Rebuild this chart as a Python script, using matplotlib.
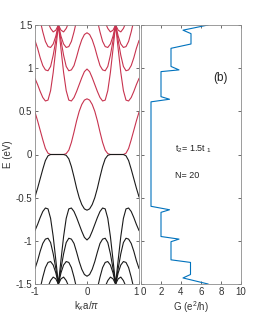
import numpy as np
import matplotlib
matplotlib.use("Agg")
import matplotlib.pyplot as plt

plt.rcParams['font.family'] = ['Liberation Sans Narrow', 'Liberation Sans', 'DejaVu Sans']
plt.rcParams['mathtext.fontset'] = 'custom'
plt.rcParams['mathtext.rm'] = 'Liberation Sans'
plt.rcParams['mathtext.it'] = 'Liberation Sans:italic'

# kx grid (kx a / pi)
kx = [-1.0, -0.95, -0.9, -0.85, -0.8, -0.75, -0.7, -0.65, -0.6, -0.55, -0.5,
      -0.45, -0.4, -0.35, -0.3, -0.25, -0.2, -0.15, -0.1, -0.05, 0.0,
      0.05, 0.1, 0.15, 0.2, 0.25, 0.3, 0.35, 0.4, 0.45, 0.5,
      0.55, 0.6, 0.65, 0.7, 0.75, 0.8, 0.85, 0.9, 0.95, 1.0]

# conduction bands (red)
c1 = [0.49, 0.39, 0.28, 0.17, 0.07, 0.015, 0.0, 0.0, 0.0, 0.0, 0.0,
      0.0, 0.01, 0.05, 0.14, 0.26, 0.39, 0.50, 0.58, 0.63, 0.645,
      0.63, 0.58, 0.50, 0.39, 0.26, 0.14, 0.05, 0.01, 0.0, 0.0,
      0.0, 0.0, 0.0, 0.0, 0.015, 0.07, 0.17, 0.28, 0.39, 0.49]
c2 = [0.88, 0.81, 0.73, 0.66, 0.62, 0.63, 0.74, 0.95, 1.22, 1.50, 1.22,
      0.95, 0.74, 0.63, 0.62, 0.66, 0.73, 0.81, 0.89, 0.96, 0.99,
      0.96, 0.89, 0.81, 0.73, 0.66, 0.62, 0.63, 0.74, 0.95, 1.22,
      1.50, 1.22, 0.95, 0.74, 0.63, 0.62, 0.66, 0.73, 0.81, 0.88]
c3 = [1.32, 1.23, 1.12, 1.03, 0.98, 0.97, 1.02, 1.15, 1.32, 1.50, 1.32,
      1.15, 1.02, 0.97, 0.98, 1.03, 1.13, 1.24, 1.33, 1.39, 1.41,
      1.39, 1.33, 1.24, 1.13, 1.03, 0.98, 0.97, 1.02, 1.15, 1.32,
      1.50, 1.32, 1.15, 1.02, 0.97, 0.98, 1.03, 1.12, 1.23, 1.32]
c4 = [1.85, 1.7, 1.55, 1.42, 1.31, 1.25, 1.24, 1.28, 1.37, 1.50, 1.37,
      1.28, 1.24, 1.25, 1.31, 1.42, 1.55, 1.7, 1.85, 1.95, 2.0,
      1.95, 1.85, 1.7, 1.55, 1.42, 1.31, 1.25, 1.24, 1.28, 1.37,
      1.50, 1.37, 1.28, 1.24, 1.25, 1.31, 1.42, 1.55, 1.7, 1.85]
c5 = [2.2, 2.0, 1.85, 1.72, 1.62, 1.53, 1.46, 1.42, 1.44, 1.50, 1.44,
      1.42, 1.46, 1.53, 1.62, 1.72, 1.85, 2.0, 2.2, 2.3, 2.35,
      2.3, 2.2, 2.0, 1.85, 1.72, 1.62, 1.53, 1.46, 1.42, 1.44,
      1.50, 1.44, 1.42, 1.46, 1.53, 1.62, 1.72, 1.85, 2.0, 2.2]

# valence bands (black)
v1 = [-0.49, -0.39, -0.28, -0.17, -0.07, -0.015, 0.0, 0.0, 0.0, 0.0, 0.0,
      0.0, -0.01, -0.05, -0.14, -0.26, -0.39, -0.50, -0.58, -0.63, -0.645,
      -0.63, -0.58, -0.50, -0.39, -0.26, -0.14, -0.05, -0.01, 0.0, 0.0,
      0.0, 0.0, 0.0, 0.0, -0.015, -0.07, -0.17, -0.28, -0.39, -0.49]
v2 = [-0.88, -0.81, -0.73, -0.66, -0.62, -0.63, -0.74, -0.95, -1.22, -1.50, -1.22,
      -0.95, -0.74, -0.63, -0.62, -0.66, -0.73, -0.81, -0.89, -0.96, -0.99,
      -0.96, -0.89, -0.81, -0.73, -0.66, -0.62, -0.63, -0.74, -0.95, -1.22,
      -1.50, -1.22, -0.95, -0.74, -0.63, -0.62, -0.66, -0.73, -0.81, -0.88]
v3 = [-1.32, -1.23, -1.12, -1.03, -0.98, -0.97, -1.02, -1.15, -1.32, -1.50, -1.32,
      -1.15, -1.02, -0.97, -0.98, -1.03, -1.13, -1.24, -1.33, -1.39, -1.41,
      -1.39, -1.33, -1.24, -1.13, -1.03, -0.98, -0.97, -1.02, -1.15, -1.32,
      -1.50, -1.32, -1.15, -1.02, -0.97, -0.98, -1.03, -1.12, -1.23, -1.32]
v4 = [-1.85, -1.7, -1.55, -1.42, -1.31, -1.25, -1.24, -1.28, -1.37, -1.50, -1.37,
      -1.28, -1.24, -1.25, -1.31, -1.42, -1.55, -1.7, -1.85, -1.95, -2.0,
      -1.95, -1.85, -1.7, -1.55, -1.42, -1.31, -1.25, -1.24, -1.28, -1.37,
      -1.50, -1.37, -1.28, -1.24, -1.25, -1.31, -1.42, -1.55, -1.7, -1.85]
v5 = [-2.2, -2.0, -1.85, -1.72, -1.62, -1.53, -1.46, -1.42, -1.44, -1.50, -1.44,
      -1.42, -1.46, -1.53, -1.62, -1.72, -1.85, -2.0, -2.2, -2.3, -2.35,
      -2.3, -2.2, -2.0, -1.85, -1.72, -1.62, -1.53, -1.46, -1.42, -1.44,
      -1.50, -1.44, -1.42, -1.46, -1.53, -1.62, -1.72, -1.85, -2.0, -2.2]

# conductance staircase
G = [6.7, 4.2, 5.0, 5.0, 3.0, 3.0, 3.8, 2.0, 2.0, 2.85, 1.0,
     1.0, 2.85, 2.0, 2.0, 3.8, 3.0, 3.0, 4.95, 4.95, 4.2, 6.7]
E_G = [1.5, 1.44, 1.40, 1.28, 1.23, 1.02, 0.98, 0.96, 0.67, 0.64, 0.61,
       -0.60, -0.64, -0.67, -0.95, -0.98, -1.01, -1.22, -1.25, -1.39, -1.43, -1.5]

red = '#c8334f'
black = '#1a1a1a'
blue = '#0072BD'
spine = '#8c8c8c'

fig = plt.figure(figsize=(2.66, 3.27), dpi=100)
ax1 = fig.add_axes([35/266, 43/327, 104/266, 259/327])
ax2 = fig.add_axes([141/266, 43/327, 100/266, 259/327])

for b in [c1, c2, c3, c4, c5]:
    ax1.plot(kx, b, color=red, lw=0.8)
for b in [v1, v2, v3, v4, v5]:
    ax1.plot(kx, b, color=black, lw=0.8)
ax2.plot(G, E_G, color=blue, lw=0.8)

for ax in (ax1, ax2):
    ax.set_ylim(-1.5, 1.5)
    ax.set_yticks([-1.5, -1, -0.5, 0, 0.5, 1, 1.5])
    ax.tick_params(direction='in', length=2.5, width=0.5, top=True, right=True,
                   labelsize=7, colors='#333333', pad=2)
    for s in ax.spines.values():
        s.set_color(spine)
        s.set_linewidth(0.6)

ax1.set_xlim(-1, 1)
ax1.set_xticks([-1, 0, 1])
ax1.set_xticklabels(['-1', '0', '1'])
ax1.set_yticklabels(['-1.5', '-1', '-0.5', '0', '0.5', '1', '1.5'])
ax1.set_xlabel('k$_x$a/$\\pi$', fontsize=7, labelpad=2, color='#333333')
ax1.set_ylabel('E (eV)', fontsize=7, labelpad=2, color='#333333')

ax2.set_xlim(0, 10)
ax2.set_xticks([0, 2, 4, 6, 8, 10])
ax2.set_yticklabels([])
ax2.set_xlabel('G (e$^2$/h)', fontsize=7, labelpad=2, color='#333333')

# the "1" of the left panel and the "0" of the right panel sit side by side
ax1.get_xticklabels()[-1].set_horizontalalignment('right')
ax2.get_xticklabels()[0].set_horizontalalignment('left')

ax2.text(8.0, 0.89, '(b)', fontsize=8.5, ha='center', va='center', color='#222222')
ax2.text(3.4, 0.06, 't$_2$= 1.5t $_1$', fontsize=6.5, ha='left', va='center', color='#222222')
ax2.text(3.4, -0.24, 'N= 20', fontsize=6.5, ha='left', va='center', color='#222222')

fig.savefig('out.png', dpi=100)
